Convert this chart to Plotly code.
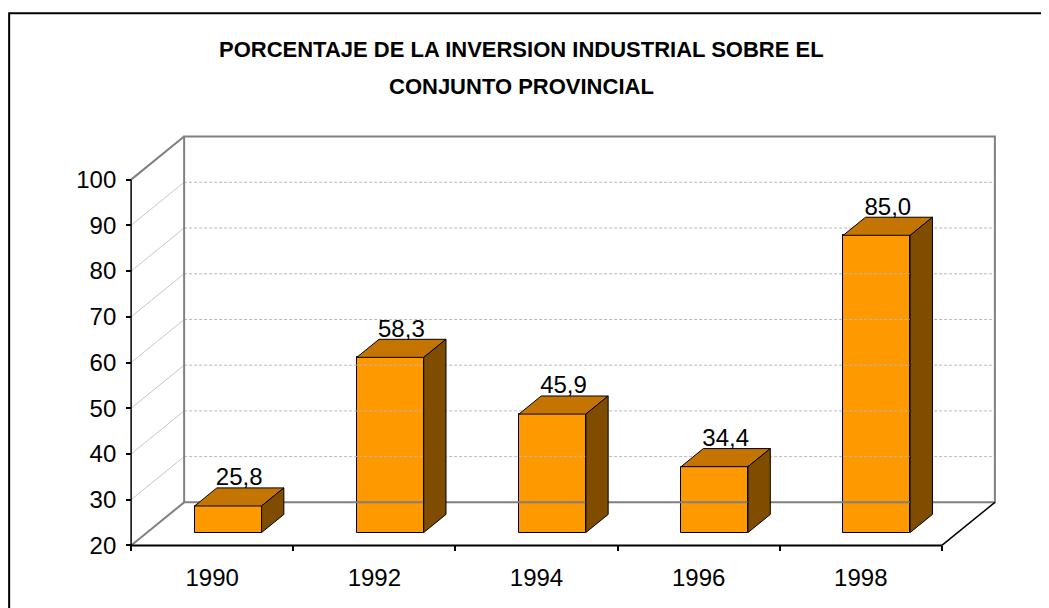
import plotly.graph_objects as go

# ---------------- data ----------------
years = ["1990", "1992", "1994", "1996", "1998"]
values = [25.8, 58.3, 45.9, 34.4, 85.0]
y_ticks = [20, 30, 40, 50, 60, 70, 80, 90, 100]
title_line1 = "PORCENTAJE DE LA INVERSION INDUSTRIAL SOBRE EL"
title_line2 = "CONJUNTO PROVINCIAL"

# ---------------- 3D-look geometry (data units) ----------------
Y0, Y1 = 20, 100          # value axis range
N = len(years)
DX = 0.327                # depth offset in category units
DY = 9.42                 # depth offset in value units
F0, F1 = 0.30, 0.72       # front / back depth fraction of the bars
BW = 0.413                # bar width (categories)
PAD_X, PAD_Y = 0.05, 1.0
LABEL_LIFT = 1.9          # label centre above bar's back-top edge (value units)

PX_PER_CAT = 162.2
PX_PER_UNIT = 4.5625
OFF = 8                   # page body margin
W, H = 1049 - OFF, 608 - OFF
x_lo, x_hi = -PAD_X, N + DX + PAD_X
y_lo, y_hi = Y0 - PAD_Y, Y1 + DY + PAD_Y
plot_w = (x_hi - x_lo) * PX_PER_CAT
plot_h = (y_hi - y_lo) * PX_PER_UNIT
ML = (131 - OFF) - PAD_X * PX_PER_CAT
MT = (137 - OFF) - PAD_Y * PX_PER_UNIT
MR = W - ML - plot_w
MB = H - MT - plot_h


def px2paper_x(px):
    return (px - OFF - ML) / plot_w


def px2paper_y(py):
    return (MT + plot_h - (py - OFF)) / plot_h


FONT = "Arial, Liberation Sans, sans-serif"
FRONT = "#FF9900"
TOP = "#C47400"
SIDE = "#7F4C00"
GRID = "#b8b8b8"
WALL = "#808080"

fig = go.Figure()


def seg(xs, ys, color, width, dash="solid"):
    fig.add_trace(go.Scatter(x=xs, y=ys, mode="lines", hoverinfo="skip",
                             line=dict(color=color, width=width, dash=dash)))


# side-wall diagonals and back-wall gridlines
for v in y_ticks[1:-1]:
    seg([0, DX], [v, v + DY], "#c8c8c8", 1)
    seg([DX, N + DX], [v + DY, v + DY], GRID, 1, "3px,2px")

# walls / floor frame
seg([DX, DX, N + DX, N + DX, DX], [Y0 + DY, Y1 + DY, Y1 + DY, Y0 + DY, Y0 + DY], WALL, 2)
seg([0, DX], [Y1, Y1 + DY], WALL, 2)
seg([0, DX], [Y0, Y0 + DY], WALL, 2)
seg([0, 0], [Y0, Y1], "black", 1.5)
seg([0, N], [Y0, Y0], "black", 2)
seg([N, N + DX], [Y0, Y0 + DY], "black", 1.5)

centers = [i + 0.5 for i in range(N)]

# front faces
fig.add_trace(go.Bar(
    x=[c + F0 * DX for c in centers],
    y=[v - Y0 for v in values],
    base=[Y0 + F0 * DY] * N,
    width=[BW] * N,
    marker=dict(color=FRONT, line=dict(color="black", width=1)),
    hoverinfo="skip",
))

# top and side faces
for c, v in zip(centers, values):
    xl = c - BW / 2
    xr = c + BW / 2
    fig.add_trace(go.Scatter(
        x=[xl + F0 * DX, xr + F0 * DX, xr + F1 * DX, xl + F1 * DX, xl + F0 * DX],
        y=[v + F0 * DY, v + F0 * DY, v + F1 * DY, v + F1 * DY, v + F0 * DY],
        mode="lines", fill="toself", fillcolor=TOP,
        line=dict(color="black", width=1), hoverinfo="skip"))
    fig.add_trace(go.Scatter(
        x=[xr + F0 * DX, xr + F0 * DX, xr + F1 * DX, xr + F1 * DX, xr + F0 * DX],
        y=[Y0 + F0 * DY, v + F0 * DY, v + F1 * DY, Y0 + F1 * DY, Y0 + F0 * DY],
        mode="lines", fill="toself", fillcolor=SIDE,
        line=dict(color="black", width=1), hoverinfo="skip"))

# data labels (decimal comma via layout.separators)
fig.add_trace(go.Scatter(
    x=[c + (F0 + F1) / 2 * DX for c in centers],
    y=[v + F1 * DY + LABEL_LIFT for v in values],
    customdata=values,
    mode="text", texttemplate="%{customdata:.1f}", textposition="middle center",
    textfont=dict(family=FONT, size=24, color="black"),
    xaxis="x2", hoverinfo="skip", cliponaxis=False,
))

axis_pos_x = PAD_X / (x_hi - x_lo)
axis_pos_y = PAD_Y / (y_hi - y_lo)

fig.update_layout(
    width=W, height=H,
    margin=dict(l=ML, r=MR, t=MT, b=MB, pad=0),
    paper_bgcolor="white", plot_bgcolor="white",
    showlegend=False,
    separators=",.",
    bargap=0,
    xaxis=dict(range=[x_lo, x_hi], anchor="free", position=axis_pos_y,
               tickvals=list(range(N + 1)), ticktext=[""] * (N + 1),
               ticks="outside", ticklen=5, tickwidth=1.5, tickcolor="black",
               showgrid=False, zeroline=False, showline=False, fixedrange=True),
    xaxis2=dict(range=[x_lo, x_hi], overlaying="x", anchor="free", position=axis_pos_y,
                side="bottom",
                tickvals=centers, ticktext=years, ticks="",
                ticklabelstandoff=16,
                tickfont=dict(family=FONT, size=24, color="black"),
                showgrid=False, zeroline=False, showline=False, fixedrange=True),
    yaxis=dict(range=[y_lo, y_hi], anchor="free", position=axis_pos_x,
               tickvals=y_ticks, ticks="outside", ticklen=5, tickwidth=1.5,
               tickcolor="black", ticklabelstandoff=5,
               tickfont=dict(family=FONT, size=24, color="black"),
               showgrid=False, zeroline=False, showline=False, fixedrange=True),
    annotations=[
        dict(text="<b>" + title_line1 + "</b>", xref="paper", yref="paper",
             x=px2paper_x(522), y=px2paper_y(50), xanchor="center", yanchor="middle",
             showarrow=False, font=dict(family=FONT, size=22, color="black")),
        dict(text="<b>" + title_line2 + "</b>", xref="paper", yref="paper",
             x=px2paper_x(522), y=px2paper_y(87), xanchor="center", yanchor="middle",
             showarrow=False, font=dict(family=FONT, size=22, color="black")),
    ],
    shapes=[dict(type="rect", xref="paper", yref="paper",
                 x0=px2paper_x(9), x1=px2paper_x(1080),
                 y0=px2paper_y(640), y1=px2paper_y(14),
                 line=dict(color="black", width=2), fillcolor="rgba(0,0,0,0)",
                 layer="above")],
)

fig.write_html("out.html")
